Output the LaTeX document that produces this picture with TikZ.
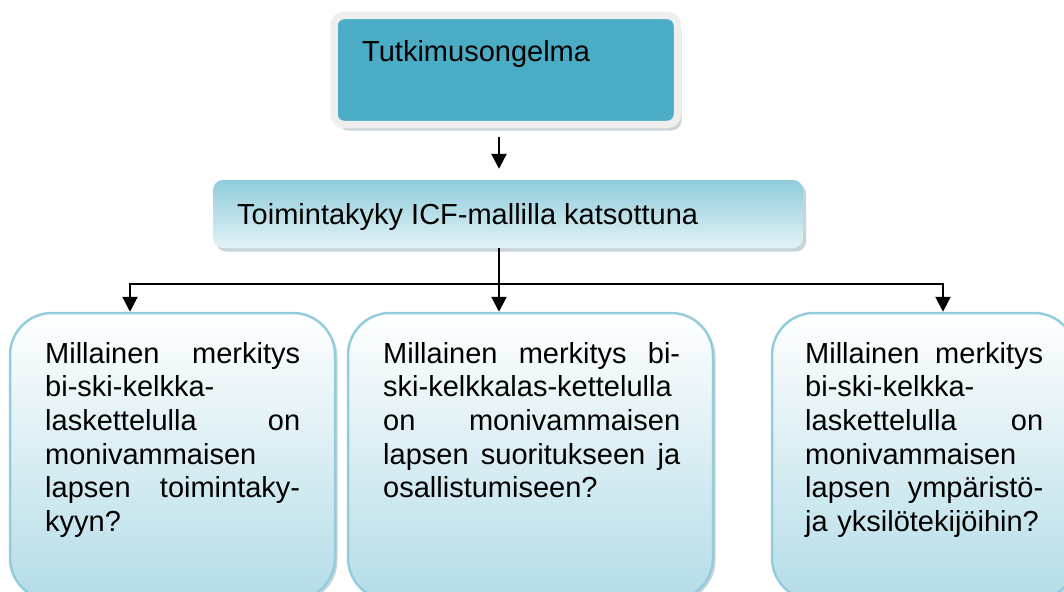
\documentclass[tikz,border=0pt]{standalone}
\usepackage{fontspec}
\setmainfont{Liberation Sans}
\usepackage{tikz}
\usetikzlibrary{arrows.meta,shadows}
\definecolor{ongelmasini}{HTML}{4BACC6}
\definecolor{kehysharmaa}{HTML}{EEEEEE}
\definecolor{varjoharmaa}{HTML}{8FAAB1}
\definecolor{mallisini}{HTML}{8FCCDB}
\definecolor{mallivaalea}{HTML}{E3F2F6}
\definecolor{kysreuna}{HTML}{93CDDD}
\definecolor{kyspohja}{HTML}{B4DCE7}
\tikzset{
  iso/.style={font=\fontsize{29}{33.7}\selectfont},
  nuoli/.style={line width=2.2pt,-{Triangle[length=15pt,width=15pt]}},
  kysbox/.style={draw=kysreuna,line width=2.5pt,rounded corners=42pt,
    top color=white,bottom color=kyspohja,inner sep=0pt,
    drop shadow={shadow xshift=2.5pt,shadow yshift=-2.5pt,fill=varjoharmaa}},
  kysteksti/.style={iso,inner sep=0pt,anchor=base west,align=left}
}
\begin{document}
\begin{tikzpicture}[x=1pt,y=-1pt]
  \useasboundingbox (0,0) rectangle (1064,591);

  % ylin laatikko
  \node[draw=kehysharmaa,line width=7.5pt,fill=ongelmasini,rounded corners=10pt,
    minimum width=343.5pt,minimum height=109pt,inner sep=0pt,
    drop shadow={shadow xshift=4pt,shadow yshift=-6pt,fill=varjoharmaa}]
    (ongelma) at (505.75,70) {};
  \node[iso,inner sep=0pt,anchor=base west] (ongelmateksti) at (362,62) {Tutkimusongelma};

  % ICF-malli
  \node[rounded corners=10pt,top color=mallisini,bottom color=mallivaalea,
    minimum width=590pt,minimum height=68pt,inner sep=0pt,
    drop shadow={shadow xshift=3pt,shadow yshift=-3.5pt,fill=varjoharmaa}]
    (malli) at (508,214) {};
  \node[iso,inner sep=0pt,anchor=base west] (malliteksti) at (237,224) {Toimintakyky ICF-mallilla katsottuna};

  % kysymykset
  \node[kysbox,minimum width=325pt,minimum height=287pt] (kysymys1) at (172.5,456.5) {};
  \node[kysbox,minimum width=365pt,minimum height=287pt] (kysymys2) at (530.5,456.5) {};
  \node[kysbox,minimum width=304pt,minimum height=287pt] (kysymys3) at (924,456.5) {};

  \node[kysteksti,text width=255pt] (teksti1) at (45,363)
    {Millainen\hfill merkitys\\ bi-ski-kelkka-\\ laskettelulla\hfill on\\
     monivammaisen\\ lapsen\hfill toimintaky-\\ kyyn?};
  \node[kysteksti,text width=297pt] (teksti2) at (383,363)
    {Millainen\hfill merkitys\hfill bi-\\ ski-kelkkalas-kettelulla\\ on\hfill monivammaisen\\
     lapsen\hfill suoritukseen\hfill ja\\ osallistumiseen?};
  \node[kysteksti,text width=238pt] (teksti3) at (805,363)
    {Millainen\hfill merkitys\\ bi-ski-kelkka-\\ laskettelulla\hfill on\\
     monivammaisen\\ lapsen\hfill ympäristö-\\ ja yksilötekijöihin?};

  % nuolet
  \coordinate (jako) at (499,284);
  \coordinate (vasen) at (130,284);
  \coordinate (oikea) at (943,284);
  \draw[nuoli,shorten <=9pt,shorten >=11pt] (ongelma.south -| jako) -- (malli.north -| jako);
  \draw[nuoli] (malli.south -| jako) -- (kysymys2.north -| jako);
  \draw[nuoli] (jako) -| (kysymys1.north -| vasen);
  \draw[nuoli] (jako) -| (kysymys3.north -| oikea);
\end{tikzpicture}
\end{document}
